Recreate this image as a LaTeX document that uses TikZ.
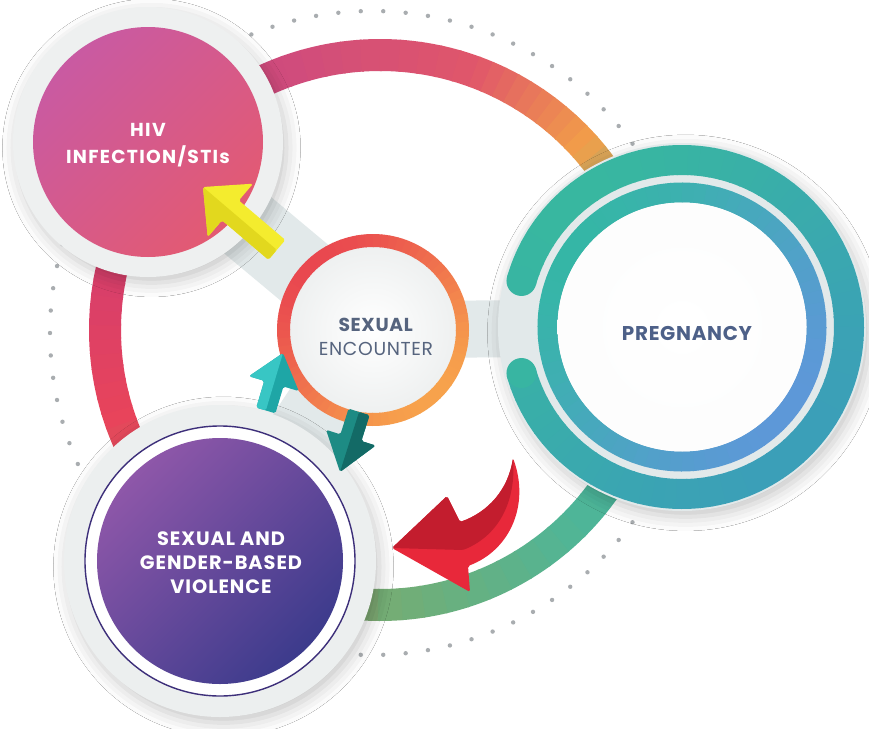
\documentclass[tikz,border=0pt]{standalone}
\usepackage{fontspec}
\setmainfont{Poppins}
\usetikzlibrary{shadows.blur}

\definecolor{rgA}{HTML}{76AD73}
\definecolor{rgB}{HTML}{E9445A}
\definecolor{rgC}{HTML}{D83F6A}
\definecolor{rgD}{HTML}{CF4C7D}
\definecolor{rgE}{HTML}{E0566A}
\definecolor{rgF}{HTML}{F29F48}
\definecolor{rgG}{HTML}{3BB5A8}
\definecolor{rgH}{HTML}{4FB597}
\definecolor{encR}{HTML}{E9474F}
\definecolor{encO}{HTML}{F7A24C}
\definecolor{pregT}{HTML}{35B6A6}
\definecolor{pregB}{HTML}{5D98D8}
\definecolor{pregOA}{HTML}{38B7A0}
\definecolor{pregOB}{HTML}{3B9FB8}
\definecolor{hivA}{HTML}{C95AA2}
\definecolor{hivB}{HTML}{E35A72}
\definecolor{sgbvA}{HTML}{8E57A9}
\definecolor{sgbvB}{HTML}{3C3B8C}
\definecolor{sgbvLine}{HTML}{3D2F7A}
\definecolor{haloGray}{HTML}{EEF0F0}
\definecolor{bridgeGray}{HTML}{E2E9EA}
\definecolor{dotGray}{HTML}{A9ADB0}
\definecolor{labelBlue}{HTML}{56647E}
\definecolor{pregText}{HTML}{4D6088}
\definecolor{yellowA}{HTML}{F4EC2E}
\definecolor{yellowB}{HTML}{E2D81E}
\definecolor{tealA}{HTML}{38C6C4}
\definecolor{tealB}{HTML}{1EA6A6}
\definecolor{darkTealA}{HTML}{1D8B84}
\definecolor{darkTealB}{HTML}{136A66}
\definecolor{redA}{HTML}{E8283A}
\definecolor{redB}{HTML}{C31D2E}

% block arrow: tip, angle, length, head length, head half, shaft half, colour, dark half
\newcommand{\blockarrow}[8]{%
  \begin{scope}[shift={#1}, rotate=-#2]
    \fill[#7, rounded corners=1.5pt] (0,0) -- (#4,#5) -- (#4,#6) -- (#3,#6)
      -- (#3,-#6) -- (#4,-#6) -- (#4,-#5) -- cycle;
    \fill[#8, rounded corners=1.5pt] (0,0) -- (#4,#5) -- (#4,#6) -- (#3,#6)
      -- (#3,0) -- cycle;
  \end{scope}}

\begin{document}
\begin{tikzpicture}
  [x=0.03cm, y=-0.03cm,
  bigring/.style ={line width=0.96cm, line cap=butt},
  encring/.style ={line width=0.39cm, line cap=butt},
  pregouter/.style ={line width=0.9cm, line cap=butt},
  preginner/.style ={line width=0.6cm, line cap=butt},
  bridge/.style ={draw=bridgeGray, line cap=round},
  halo/.style ={fill=haloGray, blur shadow={shadow xshift=3pt, shadow yshift=-5pt,
    shadow blur radius=12pt, shadow opacity=22}},
  whitelabel/.style ={text=white, align=center,
    font=\bfseries\fontsize{16.5}{20.5}\selectfont\addfontfeatures{LetterSpace=5}},
  ]

  \fill[white] (0,0) rectangle (869,729);
  \useasboundingbox (0,0) rectangle (869,729);

  \coordinate (ringC) at (380,330);
  \coordinate (dotC) at (372,333);
  \coordinate (hivC) at (148,142);
  \coordinate (encC) at (373,330);
  \coordinate (pregC) at (682,327);
  \coordinate (sgbvC) at (220,561);

  % dotted outer circle
  \foreach \a in {0,4,...,356}
    \fill[dotGray] (dotC) ++(\a:322) circle[radius=2.2];

  % light bridges between the circles
  \draw[bridge, line width=1.71cm] (encC) -- (pregC);
  \draw[bridge, line width=2.2cm] (encC) -- (hivC);
  \draw[bridge, line width=2.2cm] (encC) -- (sgbvC);

  % big colour ring
  \foreach \s/\e/\ca/\cb in {90/160/rgA/rgB, 160/190/rgB/rgC, 190/250/rgC/rgD,
      250/290/rgD/rgE, 290/318/rgE/rgF, 318/345/rgF/rgG, 345/405/rgG/rgH, 405/450/rgH/rgA}{
    \foreach \k in {0,...,9}{
      \pgfmathsetmacro\aa{\s+(\e-\s)*\k/10}
      \pgfmathsetmacro\bb{\s+(\e-\s)*(\k+1)/10+0.4}
      \pgfmathtruncatemacro\pc{95-10*\k}
      \draw[bigring, draw=\ca!\pc!\cb] (ringC) ++(\aa:275) arc[start angle=\aa, end angle=\bb, radius=275];
    }
  }

  % HIV circle
  \fill[halo] (hivC) circle[radius=135];
  \shade[shading=axis, top color=hivA, bottom color=hivB, shading angle=45] (hivC) circle[radius=115];

  % SGBV circle
  \fill[halo, fill=haloGray!80!bridgeGray] (sgbvC) circle[radius=156];
  \fill[white] (sgbvC) circle[radius=135];
  \draw[sgbvLine, line width=1.2pt] (sgbvC) circle[radius=135];
  \shade[shading=axis, top color=sgbvA, bottom color=sgbvB, shading angle=45] (sgbvC) circle[radius=123];

  % pregnancy circle
  \fill[halo, fill=bridgeGray] (pregC) circle[radius=184];
  \foreach \a in {196,200,...,520}{
    \pgfmathtruncatemacro\pc{50+50*cos(\a-225)}
    \draw[pregouter, draw=pregOA!\pc!pregOB] (pregC) ++(\a:167) arc[start angle=\a, end angle=\a+4.4, radius=167];
  }
  \fill[pregOA!90!pregOB] (pregC) ++(196:167) circle[radius=15];
  \fill[pregOA!92!pregOB] (pregC) ++(524:167) circle[radius=15];
  \foreach \a in {0,5,...,355}{
    \pgfmathtruncatemacro\pc{50+50*cos(\a-215)}
    \draw[preginner, draw=pregT!\pc!pregB] (pregC) ++(\a:134.5) arc[start angle=\a, end angle=\a+5.5, radius=134.5];
  }
  \shade[inner color=white, outer color=haloGray!90!black!6] (pregC) circle[radius=124.5];

  % sexual encounter circle
  \shade[inner color=white, outer color=haloGray] (encC) circle[radius=84];
  \foreach \a in {0,5,...,355}{
    \pgfmathtruncatemacro\pc{50+50*cos(\a-225)}
    \draw[encring, draw=encR!\pc!encO] (encC) ++(\a:89.5) arc[start angle=\a, end angle=\a+5.5, radius=89.5];
  }

  % arrows
  \blockarrow{(203,187)}{40.4}{97}{36}{35}{13}{yellowA}{yellowB}
  \blockarrow{(283,353)}{106.6}{60}{32}{26}{10}{tealB}{tealA}
  \blockarrow{(340,472)}{-72.4}{63}{36}{26}{11}{darkTealA}{darkTealB}

  \fill[redA, rounded corners=1.5pt] (392,548) -- (447,496) -- (460,522)
    .. controls (488,512) and (508,490) .. (513,458)
    .. controls (530,505) and (510,550) .. (468,566) -- (470,592) -- cycle;
  \fill[redB, rounded corners=1.5pt] (392,548) -- (447,496) -- (460,522)
    .. controls (488,512) and (508,490) .. (513,458)
    .. controls (516,500) and (500,535) .. (463,550) -- cycle;

  % labels
  \node[whitelabel, font=\bfseries\fontsize{16}{22.5}\selectfont\addfontfeatures{LetterSpace=7}]
    (hiv) at (148,145) {HIV\\INFECTION/STIs};
  \node[align=center, text=labelBlue, font=\fontsize{16}{21}\selectfont\addfontfeatures{LetterSpace=3.5}]
    (enc) at (376,337) {\textbf{SEXUAL}\\ENCOUNTER};
  \node[text=pregText, font=\bfseries\fontsize{17}{22}\selectfont\addfontfeatures{LetterSpace=3.5}]
    (preg) at (687,333) {PREGNANCY};
  \node[whitelabel] (sgbv) at (221,563) {SEXUAL AND\\GENDER-BASED\\VIOLENCE};
\end{tikzpicture}
\end{document}
